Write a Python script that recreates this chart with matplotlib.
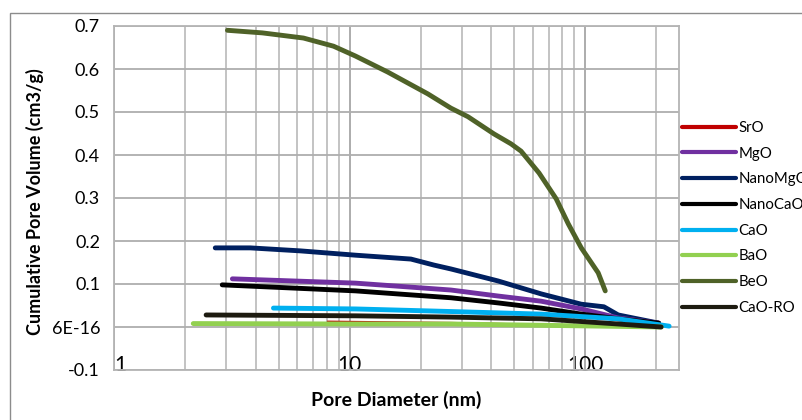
import matplotlib
matplotlib.use("Agg")
import matplotlib.pyplot as plt
from matplotlib.patches import Rectangle
from matplotlib.ticker import FixedLocator, LogLocator, NullFormatter

plt.rcParams['font.family'] = ['Lato', 'DejaVu Sans']

# ---- data ----
beo_x = [3.03, 4.26, 6.37, 8.55, 10.6, 14.5, 21.5, 26.9, 31.8, 41, 48.4, 53.4, 63.7, 75.3, 84.7, 96.2, 113.5, 121.6]
beo_y = [0.690, 0.684, 0.672, 0.653, 0.630, 0.593, 0.542, 0.509, 0.489, 0.449, 0.426, 0.409, 0.358, 0.298, 0.240, 0.184, 0.126, 0.084]

nmgo_x = [2.69, 3.79, 6.19, 10.6, 18.2, 22.8, 26.9, 42.7, 65.0, 96.2, 120, 138, 205]
nmgo_y = [0.184, 0.184, 0.177, 0.167, 0.158, 0.144, 0.135, 0.107, 0.077, 0.053, 0.047, 0.028, 0.009]

mgo_x = [3.18, 10.6, 26.9, 42.7, 65, 96.2, 138, 205]
mgo_y = [0.112, 0.102, 0.086, 0.072, 0.060, 0.042, 0.021, 0.009]

ncao_x = [2.88, 10.6, 26.9, 42.7, 65, 96.2, 138, 205]
ncao_y = [0.098, 0.084, 0.068, 0.056, 0.044, 0.030, 0.019, 0.009]

cao_x = [4.75, 10.6, 26.9, 65, 138, 227]
cao_y = [0.044, 0.042, 0.036, 0.030, 0.019, 0.002]

caoro_x = [2.46, 10.6, 26.9, 65, 138, 210]
caoro_y = [0.028, 0.026, 0.023, 0.019, 0.007, 0.0]

bao_x = [2.17, 10, 26.9, 210]
bao_y = [0.008, 0.007, 0.007, 0.0]

sro_x = [8.06, 26.9, 210]
sro_y = [0.013, 0.010, 0.0]

labels = ["SrO", "MgO", "NanoMgO", "NanoCaO", "CaO", "BaO", "BeO", "CaO-RO"]
colors = ["#C00000", "#7030A0", "#002060", "#000000", "#00B0F0", "#92D050", "#4F6228", "#1D1B10"]

ytick_vals = [-0.1, 0.0, 0.1, 0.2, 0.3, 0.4, 0.5, 0.6, 0.7]
ytick_text = ["-0.1", "6E-16", "0.1", "0.2", "0.3", "0.4", "0.5", "0.6", "0.7"]

series = [(sro_x, sro_y), (mgo_x, mgo_y), (nmgo_x, nmgo_y), (ncao_x, ncao_y),
          (cao_x, cao_y), (bao_x, bao_y), (beo_x, beo_y), (caoro_x, caoro_y)]

fig = plt.figure(figsize=(8.03, 4.2), dpi=100)
ax = fig.add_axes([114/803, 50/420, 565/803, 344/420])

# outer chart frame
fig.patches.append(Rectangle((10/803, -0.05), 1.0, (407/420) + 0.05, transform=fig.transFigure,
                             fill=False, edgecolor="#8C8C8C", linewidth=1.0))

# drawing order: back to front similar to the picture
order = [6, 2, 1, 3, 4, 0, 5, 7]
handles = {}
for i in order:
    xs, ys = series[i]
    lw = 1.2 if labels[i] == "SrO" else 3.5
    ln, = ax.plot(xs, ys, color=colors[i], linewidth=lw, solid_capstyle='round',
                  solid_joinstyle='round', label=labels[i])
    handles[i] = ln

ax.set_xscale('log')
ax.set_xlim(1, 250)
ax.set_ylim(-0.1, 0.7)

ax.yaxis.set_major_locator(FixedLocator(ytick_vals))
ax.set_yticklabels(ytick_text)
ax.xaxis.set_minor_locator(LogLocator(base=10, subs=range(2, 10)))
ax.xaxis.set_minor_formatter(NullFormatter())
ax.set_xticks([1, 10, 100])
ax.set_xticklabels(["1", "10", "100"])
ax.get_xticklabels()[0].set_ha('left')

ax.grid(True, which='minor', axis='x', color='#BEBEBE', linewidth=1.3)
ax.grid(True, which='major', axis='x', color='#A6A6A6', linewidth=1.3)
ax.grid(True, which='major', axis='y', color='#AEAEAE', linewidth=1.3)
ax.set_axisbelow(True)
for s in ax.spines.values():
    s.set_color('#B4B4B4')
    s.set_linewidth(1.3)

ax.tick_params(axis='both', which='both', length=0)
ax.tick_params(axis='y', labelsize=13, pad=10)
ax.tick_params(axis='x', labelsize=15, pad=-11)

ax.set_xlabel("Pore Diameter (nm)", fontsize=14, fontweight='bold')
ax.xaxis.set_label_coords(0.5, -0.062)
ax.set_ylabel("Cumulative Pore Volume (cm3/g)", fontsize=13, fontweight='bold')
ax.yaxis.set_label_coords(-0.124, 0.49)

leg = fig.legend([handles[i] for i in range(8)], labels, loc='upper left',
                 bbox_to_anchor=(676/803, 1 - 115/420), frameon=False, fontsize=10.8,
                 handlelength=3.6, handletextpad=0.15, labelspacing=0.78, borderaxespad=0)
for h in leg.get_lines():
    h.set_linewidth(3.0)

fig.savefig("out.png", dpi=100)
